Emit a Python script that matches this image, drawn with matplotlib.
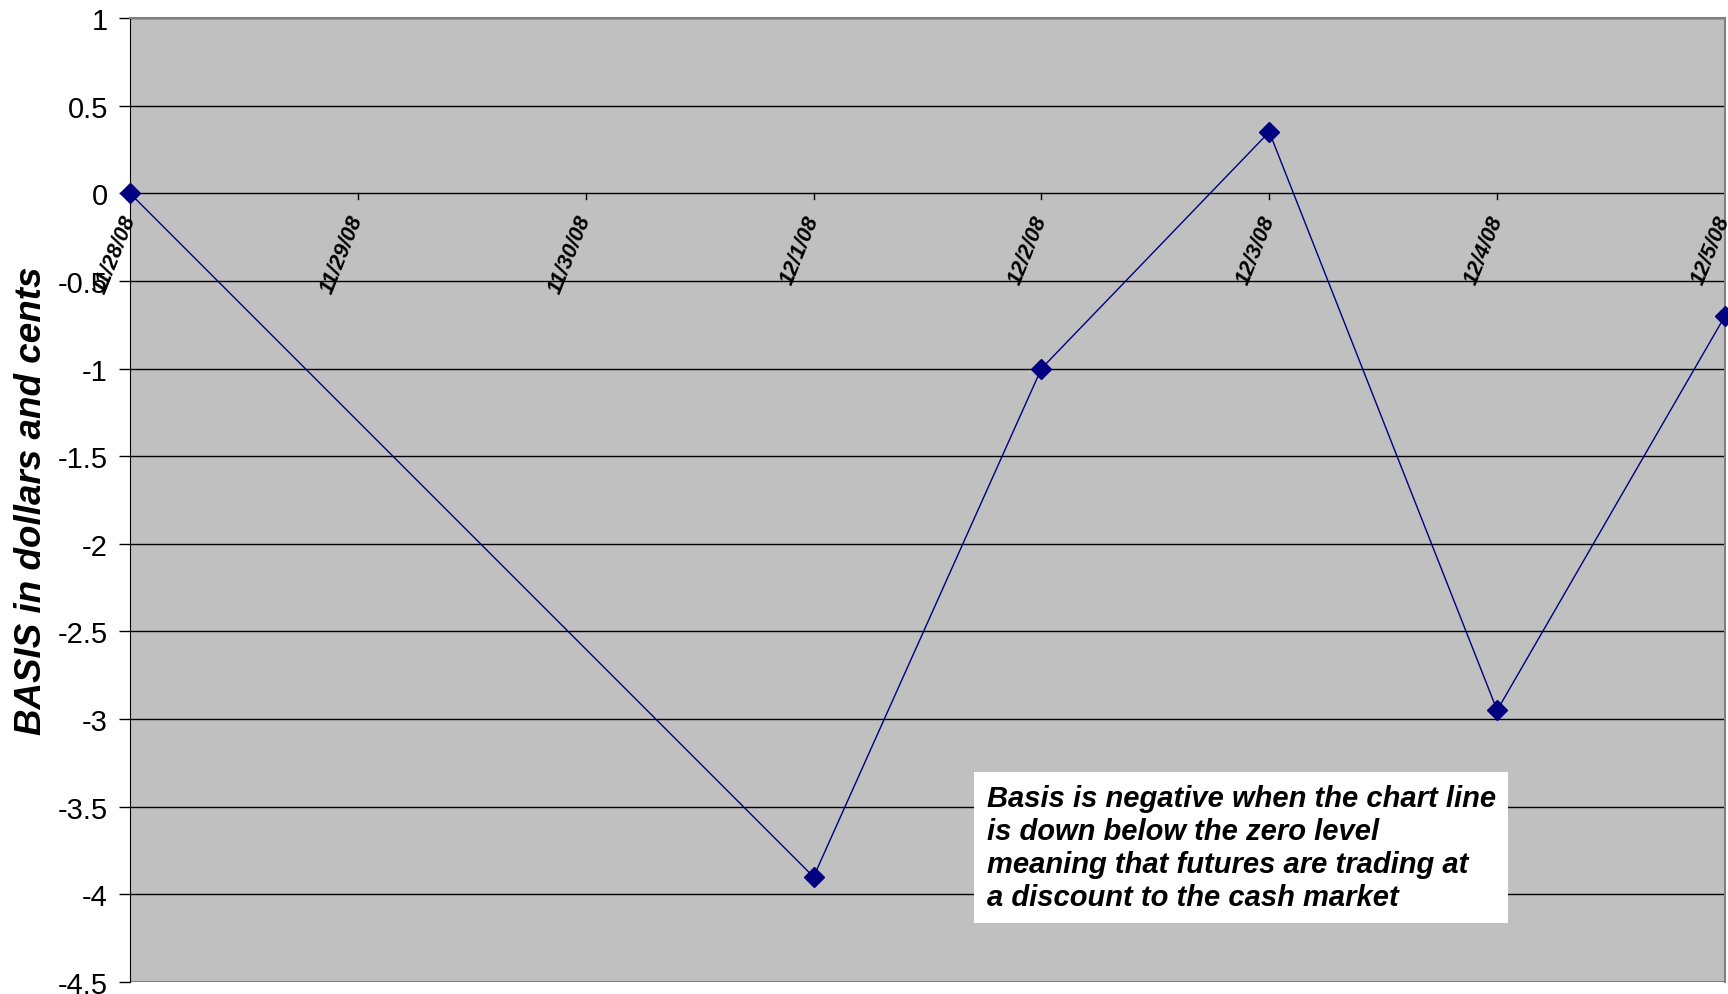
import matplotlib.pyplot as plt

plt.rcParams['font.family'] = ['Liberation Sans', 'DejaVu Sans']

dates = ['11/28/08', '11/29/08', '11/30/08', '12/1/08', '12/2/08',
         '12/3/08', '12/4/08', '12/5/08']
# weekend days have no value; Excel joins the line across the gap
basis = [0.0, None, None, -3.9, -1.0, 0.35, -2.95, -0.7]

xs = [i for i, v in enumerate(basis) if v is not None]
ys = [v for v in basis if v is not None]

fig = plt.figure(figsize=(17.28, 9.95), dpi=100)
ax = fig.add_axes([130 / 1728, 12 / 995, 1595 / 1728, 964 / 995])
ax.set_facecolor('#C0C0C0')

ax.set_xlim(0, len(dates) - 1)
ax.set_ylim(-4.5, 1)
ax.set_yticks([1, 0.5, 0, -0.5, -1, -1.5, -2, -2.5, -3, -3.5, -4, -4.5])
ax.set_yticklabels(['1', '0.5', '0', '-0.5', '-1', '-1.5', '-2', '-2.5',
                    '-3', '-3.5', '-4', '-4.5'], fontsize=21)
ax.yaxis.grid(True, color='black', linewidth=1)
ax.set_axisbelow(True)
ax.tick_params(axis='y', length=8, width=1, pad=8)

# x axis crosses at zero
ax.spines['bottom'].set_visible(False)
ax.spines['top'].set_color('#808080')
ax.spines['right'].set_color('#808080')
ax.spines['top'].set_linewidth(1.5)
ax.spines['right'].set_linewidth(1.5)
ax.spines['left'].set_color('black')
ax.axhline(-4.5, color='#808080', linewidth=1.5, zorder=1)

ax.set_xticks(range(len(dates)))
ax.set_xticklabels([])
ax.tick_params(axis='x', length=0)
for i, d in enumerate(dates):
    ax.plot([i, i], [0, -0.035], color='black', linewidth=1, zorder=2)
    ax.text(i, -0.13, d, rotation=68, rotation_mode='anchor', ha='right',
            va='center', fontsize=15.5, fontweight='bold', fontstyle='italic')

ax.plot(xs, ys, color='#000080', linewidth=1, marker='D', markersize=10,
        markerfacecolor='#000080', markeredgecolor='#000080', zorder=3,
        clip_on=False)

ax.set_ylabel('BASIS in dollars and cents', fontsize=26.5, fontweight='bold',
              fontstyle='italic', labelpad=6)

ax.text(0.537, 0.205,
        'Basis is negative when the chart line\n'
        'is down below the zero level\n'
        'meaning that futures are trading at\n'
        'a discount to the cash market',
        transform=ax.transAxes, ha='left', va='top', fontsize=21,
        fontweight='bold', fontstyle='italic', linespacing=1.22,
        bbox=dict(facecolor='white', edgecolor='none', pad=9), zorder=4)

fig.savefig('out.png', dpi=100)
